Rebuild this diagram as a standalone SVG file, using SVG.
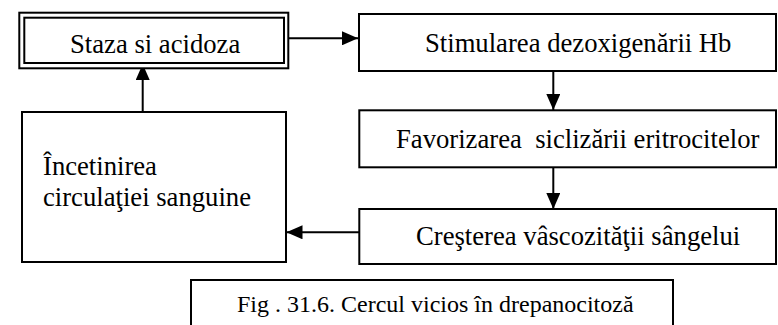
<svg xmlns="http://www.w3.org/2000/svg" width="778" height="325" viewBox="0 0 778 325">
<style>
.box{fill:#fff;stroke:#000;stroke-width:2}
text{font-family:'Liberation Serif',Tinos,'Times New Roman',Times,serif;font-size:26.67px;fill:#000}
.cap{font-size:24px}
.c{fill:none;stroke:#000;stroke-width:2}
</style>
<defs>
<marker id="ah" markerUnits="userSpaceOnUse" markerWidth="16" markerHeight="14" refX="16" refY="7" orient="auto">
<path d="M0,0 L16,7 L0,14 Z" fill="#000"/>
</marker>
</defs>
<rect width="778" height="325" fill="#fff"/>
<g id="connectors">
<line class="c" x1="289" y1="38.3" x2="358" y2="38.3" marker-end="url(#ah)"/>
<line class="c" x1="142.7" y1="112" x2="142.7" y2="64" marker-end="url(#ah)"/>
<line class="c" x1="553.3" y1="71" x2="553.3" y2="110" marker-end="url(#ah)"/>
<line class="c" x1="553.3" y1="167" x2="553.3" y2="209" marker-end="url(#ah)"/>
<line class="c" x1="359" y1="232.3" x2="286.5" y2="232.3" marker-end="url(#ah)"/>
</g>
<g id="staza">
<rect class="box" x="19.3" y="12.7" width="269" height="55.6"/>
<rect class="box" x="24.3" y="17.7" width="259.7" height="45.3"/>
<text x="70" y="53" font-family="Liberation Serif, serif">Staza si acidoza</text>
</g>
<g id="stimularea">
<rect class="box" x="359" y="14" width="417" height="57"/>
<text x="425" y="52" font-family="Liberation Serif, serif">Stimularea dezoxigenării Hb</text>
</g>
<g id="favorizarea">
<rect class="box" x="359.3" y="110.3" width="416.7" height="57"/>
<text x="396" y="147.5" font-family="Liberation Serif, serif" xml:space="preserve">Favorizarea  siclizării eritrocitelor</text>
</g>
<g id="cresterea">
<rect class="box" x="359.3" y="209" width="416.7" height="55"/>
<text x="416" y="244.5" font-family="Liberation Serif, serif">Creşterea vâscozităţii sângelui</text>
</g>
<g id="incetinirea">
<rect class="box" x="22" y="112" width="264" height="150"/>
<text x="43" y="175" font-family="Liberation Serif, serif">Încetinirea</text>
<text x="43" y="206" font-family="Liberation Serif, serif">circulaţiei sanguine</text>
</g>
<g id="caption">
<rect class="box" x="191" y="280" width="482" height="60"/>
<text class="cap" x="237" y="312" font-family="Liberation Serif, serif">Fig . 31.6. Cercul vicios în drepanocitoză</text>
</g>
</svg>
